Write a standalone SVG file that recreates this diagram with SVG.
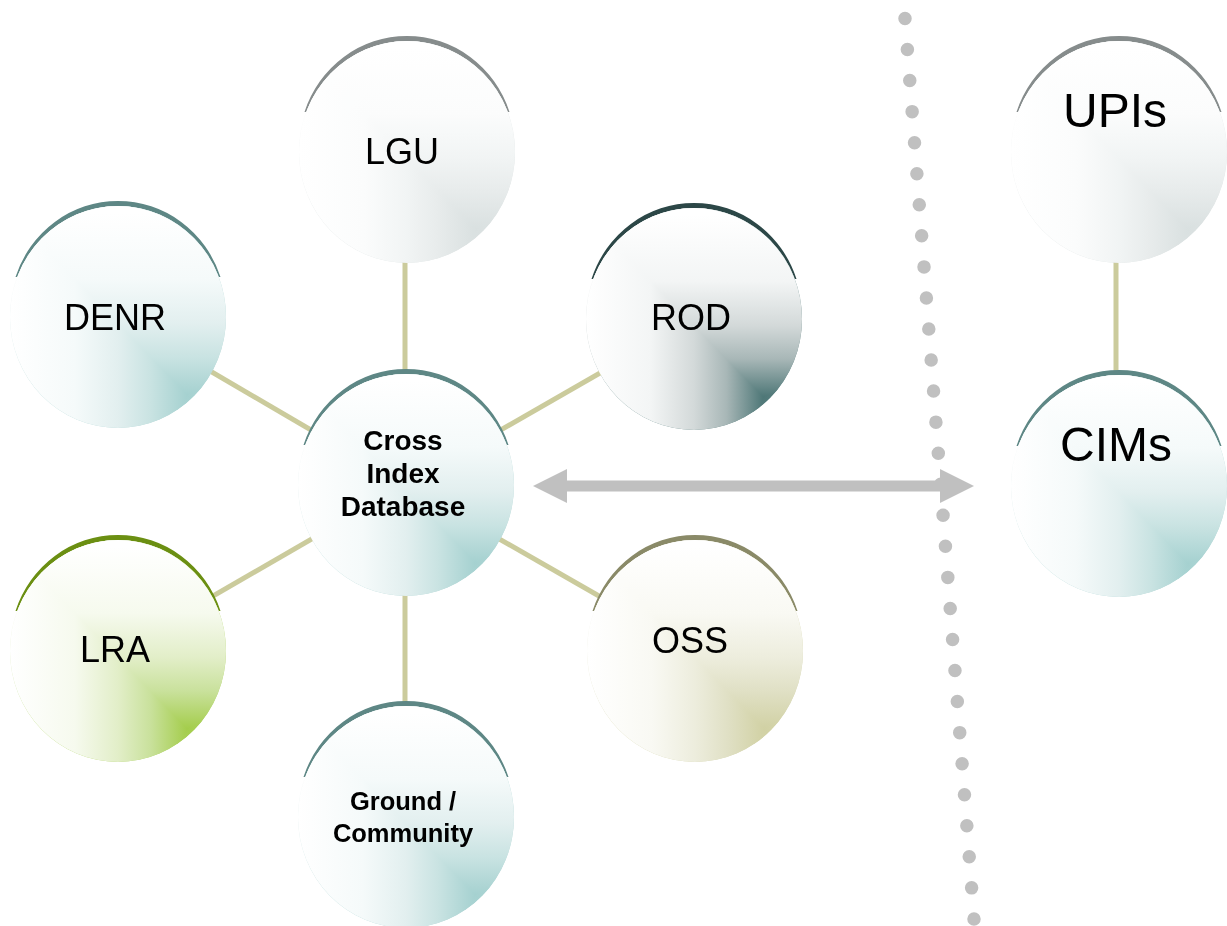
<svg xmlns="http://www.w3.org/2000/svg" xmlns:xlink="http://www.w3.org/1999/xlink" width="1227" height="926" viewBox="0 0 1227 926">
  <style>
    .link { stroke: #cbcb9c; stroke-width: 5; fill: none; }
    .sep { stroke: #c0c0c0; stroke-width: 13.5; stroke-linecap: round; stroke-dasharray: 0 31.14; fill: none; }
    .arrow { fill: #c0c0c0; }
    .shade { mix-blend-mode: lighten; }
    .lbl { font-family: "Liberation Sans", Arial, sans-serif; font-size: 36px; fill: #000; text-anchor: middle; }
    .big { font-size: 48px; }
    .bold { font-weight: bold; font-size: 28px; }
    .small { font-weight: bold; font-size: 25.5px; }
  </style>
  <defs>
    <!-- thin crescent rim along the top of each disc -->
    <path id="rim" d="M -102.5,-40 A 108,111 0 0 1 102.5,-40 L 100.7,-40 A 108,111 0 0 0 -100.7,-40 Z"/>

    <!-- each disc is shaded from the lower right: a horizontal and a vertical ramp,
         combined with "lighten" so the paler of the two wins (rectangular falloff) -->
    <linearGradient id="h-gray" x1="0" y1="0" x2="1" y2="0">
      <stop offset="0" stop-color="#ffffff"/>
      <stop offset="0.3" stop-color="#fbfcfc"/>
      <stop offset="0.5" stop-color="#f1f4f4"/>
      <stop offset="0.65" stop-color="#e7ebeb"/>
      <stop offset="0.82" stop-color="#d9e0e0"/>
      <stop offset="1" stop-color="#e2e7e7"/>
    </linearGradient>
    <linearGradient id="v-gray" xlink:href="#h-gray" x1="0" y1="0.03" x2="0" y2="1.03"/>

    <linearGradient id="h-teal" x1="0" y1="0" x2="1" y2="0">
      <stop offset="0" stop-color="#ffffff"/>
      <stop offset="0.3" stop-color="#f5fafa"/>
      <stop offset="0.5" stop-color="#e2efef"/>
      <stop offset="0.65" stop-color="#c9e3e2"/>
      <stop offset="0.82" stop-color="#a5d1d0"/>
      <stop offset="1" stop-color="#b6dad9"/>
    </linearGradient>
    <linearGradient id="v-teal" xlink:href="#h-teal" x1="0" y1="0.03" x2="0" y2="1.03"/>

    <linearGradient id="h-dark" x1="0" y1="0" x2="1" y2="0">
      <stop offset="0" stop-color="#ffffff"/>
      <stop offset="0.3" stop-color="#f3f5f5"/>
      <stop offset="0.5" stop-color="#d3d9d9"/>
      <stop offset="0.65" stop-color="#a8b7b7"/>
      <stop offset="0.82" stop-color="#4e7777"/>
      <stop offset="1" stop-color="#6a8b8b"/>
    </linearGradient>
    <linearGradient id="v-dark" xlink:href="#h-dark" x1="0" y1="0.03" x2="0" y2="1.03"/>

    <linearGradient id="h-green" x1="0" y1="0" x2="1" y2="0">
      <stop offset="0" stop-color="#ffffff"/>
      <stop offset="0.3" stop-color="#f6faee"/>
      <stop offset="0.5" stop-color="#e2eec8"/>
      <stop offset="0.65" stop-color="#c9e19c"/>
      <stop offset="0.82" stop-color="#a4cd4c"/>
      <stop offset="1" stop-color="#b6d770"/>
    </linearGradient>
    <linearGradient id="v-green" xlink:href="#h-green" x1="0" y1="0.03" x2="0" y2="1.03"/>

    <linearGradient id="h-olive" x1="0" y1="0" x2="1" y2="0">
      <stop offset="0" stop-color="#ffffff"/>
      <stop offset="0.3" stop-color="#f9f9f3"/>
      <stop offset="0.5" stop-color="#ededdd"/>
      <stop offset="0.65" stop-color="#e0e0c5"/>
      <stop offset="0.82" stop-color="#d1d1a4"/>
      <stop offset="1" stop-color="#dadab5"/>
    </linearGradient>
    <linearGradient id="v-olive" xlink:href="#h-olive" x1="0" y1="0.03" x2="0" y2="1.03"/>
  </defs>

  <!-- dotted divider and links, drawn beneath the discs -->
  <g id="connectors">
    <line class="sep" x1="905" y1="18.5" x2="974" y2="919"/>
    <line class="link" x1="405" y1="485" x2="405" y2="152"/>
    <line class="link" x1="405" y1="485" x2="405" y2="817"/>
    <line class="link" x1="405" y1="485" x2="118" y2="317"/>
    <line class="link" x1="405" y1="485" x2="694" y2="319"/>
    <line class="link" x1="405" y1="485" x2="118" y2="651"/>
    <line class="link" x1="405" y1="485" x2="695" y2="651"/>
    <line class="link" x1="1116" y1="152" x2="1116" y2="486"/>
    <polygon class="arrow" points="533,486 567,469 567,480.5 940,480.5 940,469 974,486 940,503 940,491.5 567,491.5 567,503"/>
  </g>

  <g id="node-lgu" transform="translate(407,152)">
    <use xlink:href="#rim" fill="#868c8c"/>
    <ellipse rx="108" ry="111" fill="url(#h-gray)"/>
    <ellipse class="shade" rx="108" ry="111" fill="url(#v-gray)"/>
    <text class="lbl" x="-5" y="12">LGU</text>
  </g>

  <g id="node-denr" transform="translate(118,317)">
    <use xlink:href="#rim" fill="#5e8785"/>
    <ellipse rx="108" ry="111" fill="url(#h-teal)"/>
    <ellipse class="shade" rx="108" ry="111" fill="url(#v-teal)"/>
    <text class="lbl" x="-3" y="13">DENR</text>
  </g>

  <g id="node-rod" transform="translate(694,319)">
    <use xlink:href="#rim" fill="#2c4747"/>
    <ellipse rx="108" ry="111" fill="url(#h-dark)"/>
    <ellipse class="shade" rx="108" ry="111" fill="url(#v-dark)"/>
    <text class="lbl" x="-3" y="11">ROD</text>
  </g>

  <g id="node-cross-index" transform="translate(406,485)">
    <use xlink:href="#rim" fill="#5e8785"/>
    <ellipse rx="108" ry="111" fill="url(#h-teal)"/>
    <ellipse class="shade" rx="108" ry="111" fill="url(#v-teal)"/>
    <text class="lbl bold" x="-3" y="-35.5">Cross</text>
    <text class="lbl bold" x="-3" y="-2.3">Index</text>
    <text class="lbl bold" x="-3" y="31">Database</text>
  </g>

  <g id="node-lra" transform="translate(118,651)">
    <use xlink:href="#rim" fill="#6b8f12"/>
    <ellipse rx="108" ry="111" fill="url(#h-green)"/>
    <ellipse class="shade" rx="108" ry="111" fill="url(#v-green)"/>
    <text class="lbl" x="-3" y="10.7">LRA</text>
  </g>

  <g id="node-oss" transform="translate(695,651)">
    <use xlink:href="#rim" fill="#8a8a68"/>
    <ellipse rx="108" ry="111" fill="url(#h-olive)"/>
    <ellipse class="shade" rx="108" ry="111" fill="url(#v-olive)"/>
    <text class="lbl" x="-5" y="2.3">OSS</text>
  </g>

  <g id="node-ground" transform="translate(406,817)">
    <use xlink:href="#rim" fill="#5e8785"/>
    <ellipse rx="108" ry="111" fill="url(#h-teal)"/>
    <ellipse class="shade" rx="108" ry="111" fill="url(#v-teal)"/>
    <text class="lbl small" x="-3" y="-7">Ground /</text>
    <text class="lbl small" x="-3" y="24.7">Community</text>
  </g>

  <g id="node-upis" transform="translate(1119,152)">
    <use xlink:href="#rim" fill="#868c8c"/>
    <ellipse rx="108" ry="111" fill="url(#h-gray)"/>
    <ellipse class="shade" rx="108" ry="111" fill="url(#v-gray)"/>
    <text class="lbl big" x="-4" y="-25">UPIs</text>
  </g>

  <g id="node-cims" transform="translate(1119,486)">
    <use xlink:href="#rim" fill="#5e8785"/>
    <ellipse rx="108" ry="111" fill="url(#h-teal)"/>
    <ellipse class="shade" rx="108" ry="111" fill="url(#v-teal)"/>
    <text class="lbl big" x="-3" y="-25">CIMs</text>
  </g>
</svg>
